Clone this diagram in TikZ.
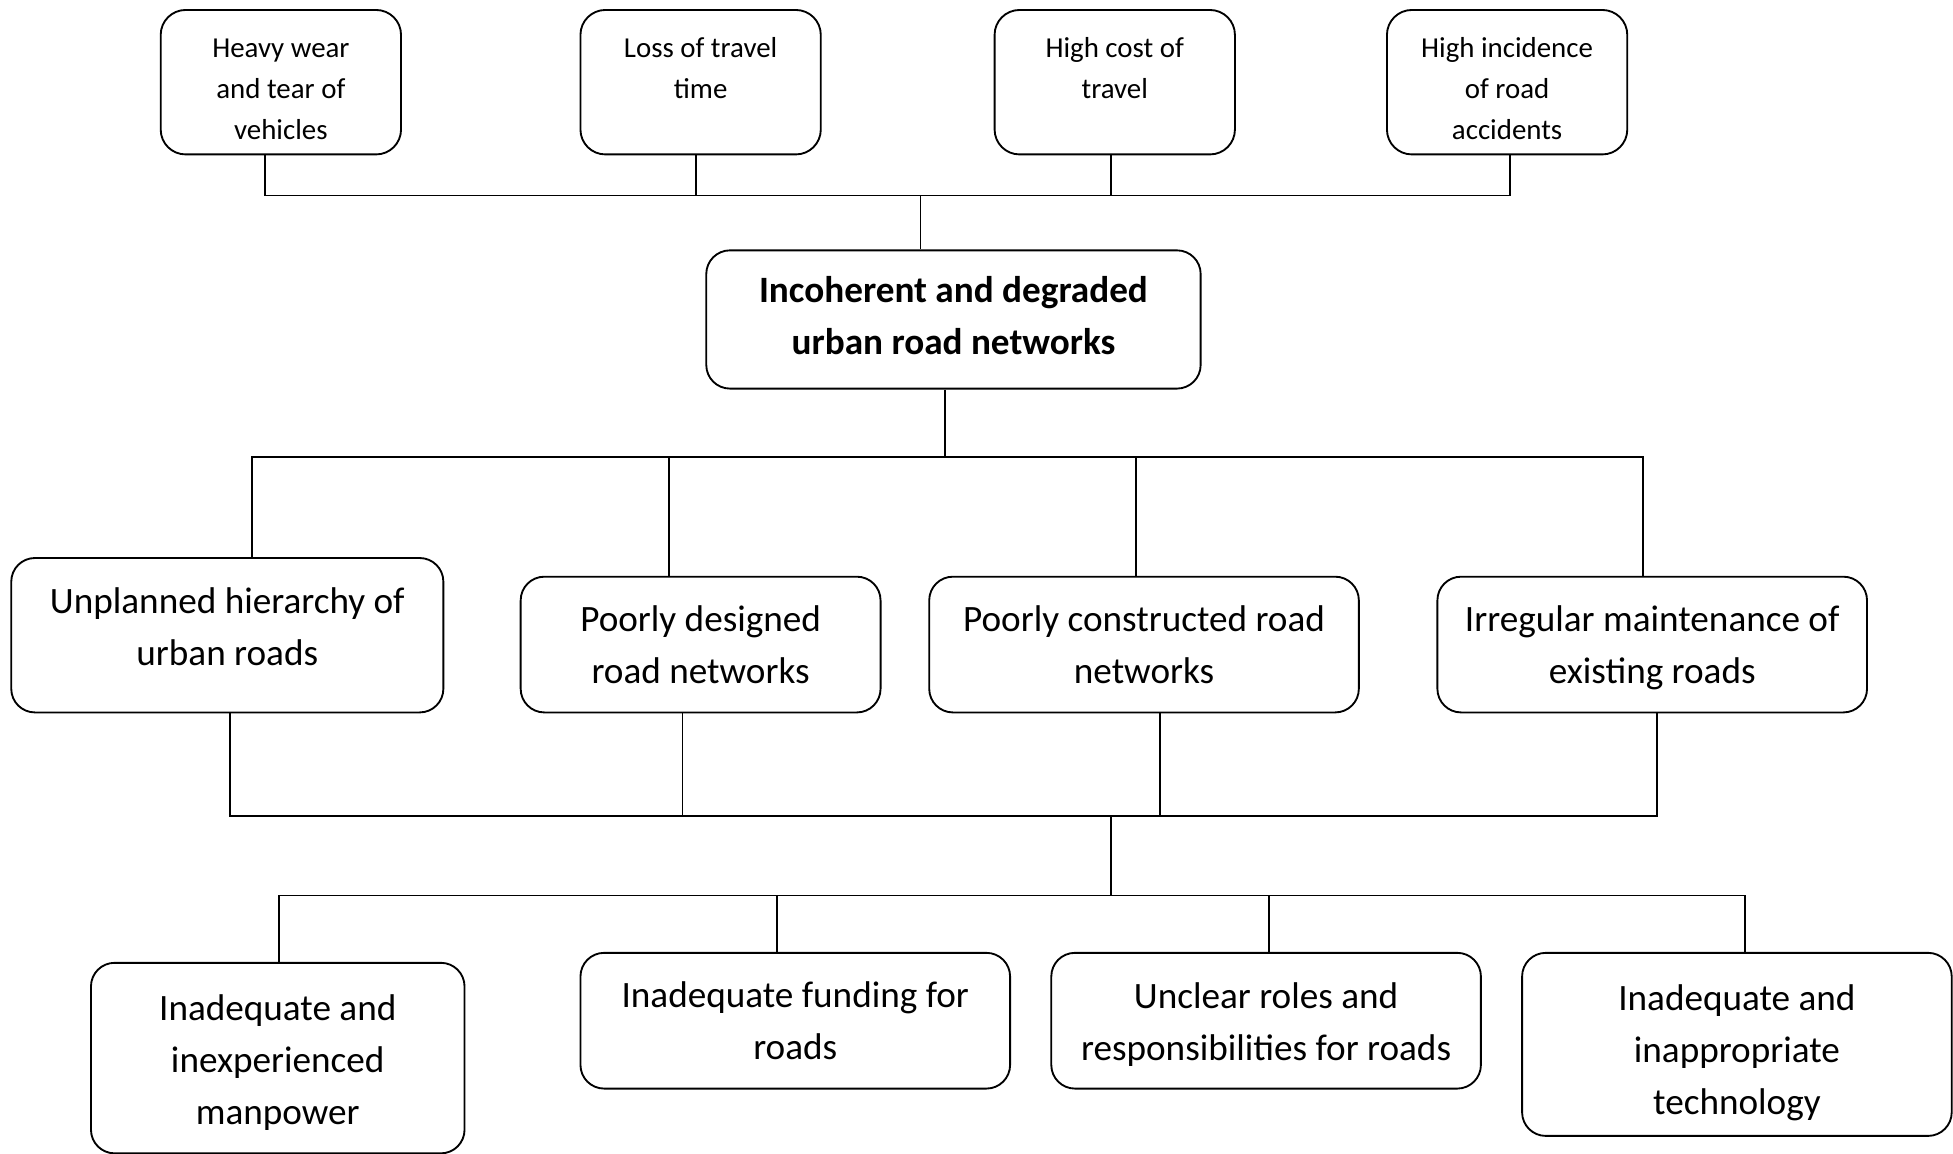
\documentclass[tikz,border=0pt]{standalone}
\usepackage{fontspec}
\setmainfont{Carlito}

\begin{document}
\begin{tikzpicture}[
  x=0.02cm, y=-0.02cm, line width=0.85pt,
  my box/.style={draw, rounded corners=0.38cm, inner sep=0pt, align=center},
  effect box/.style={my box, rounded corners=0.4cm, minimum width=3.86cm,
    minimum height=2.32cm, font=\fontsize{13.2}{18.7}\selectfont},
  cause box/.style={my box, minimum width=6.9cm, minimum height=2.18cm,
    font=\fontsize{17}{23.8}\selectfont},
  ]
  \useasboundingbox (0,0) rectangle (1568,926.5);
  \node[effect box] (wear) at (225.5,66) {\rule{0pt}{15pt}Heavy wear\\and tear of\\vehicles};
  \node[effect box] (time) at (562.5,66) {\rule{0pt}{15pt}Loss of travel\\time\\\mbox{}};
  \node[effect box] (cost) at (895,66) {\rule{0pt}{15pt}High cost of\\travel\\\mbox{}};
  \node[effect box] (accid) at (1210,66) {\rule{0pt}{15pt}High incidence\\of road\\accidents};
  \node[cause box, minimum width=7.94cm, minimum height=2.22cm, font=\fontsize{17}{23.8}\selectfont\bfseries]
    (core) at (765.5,256.5) {Incoherent and degraded\\urban road networks\rule[-3.5pt]{0pt}{3.5pt}};
  \node[cause box, minimum width=6.94cm, minimum height=2.48cm] (hier) at (182.5,510) {Unplanned hierarchy of\\urban roads\rule[-8pt]{0pt}{8pt}};
  \node[cause box, minimum width=5.78cm] (design) at (562.5,517.5) {Poorly designed\\road networks};
  \node[cause box] (constr) at (918.5,517.5) {Poorly constructed road\\networks};
  \node[cause box] (maint) at (1326.5,517.5) {\rule{0pt}{15pt}Irregular maintenance of\\existing roads};
  \node[cause box, minimum width=6cm, minimum height=3.06cm] (manp) at (223,849.5) {\rule{0pt}{16pt}Inadequate and\\inexperienced\\manpower};
  \node[cause box] (fund) at (638.5,819.5) {Inadequate funding for\\roads};
  \node[cause box] (roles) at (1016.5,819.5) {\rule{0pt}{15pt}Unclear roles and\\responsibilities for roads};
  \node[cause box, minimum height=2.94cm] (tech) at (1394.5,838.5) {\rule{0pt}{19.5pt}Inadequate and\\inappropriate\\technology};

  \coordinate (t0) at (739,157);
  \coordinate (t1) at (213,157);
  \coordinate (t2) at (559,157);
  \coordinate (t3) at (892,157);
  \coordinate (t4) at (1212,157);
  \draw (t1 |- wear.south) -- (t1) -- (t4) -- (t4 |- accid.south);
  \draw (t2 |- time.south) -- (t2);
  \draw (t3 |- cost.south) -- (t3);
  \draw (t0) -- (t0 |- core.north);

  \coordinate (c0) at (759,367);
  \coordinate (c1) at (202,367);
  \coordinate (c2) at (537,367);
  \coordinate (c3) at (912,367);
  \coordinate (c4) at (1319,367);
  \draw (c0 |- core.south) -- (c0);
  \draw (c1 |- hier.north) -- (c1) -- (c4) -- (c4 |- maint.north);
  \draw (c2) -- (c2 |- design.north);
  \draw (c3) -- (c3 |- constr.north);

  \coordinate (d0) at (892,655);
  \coordinate (d1) at (185,655);
  \coordinate (d2) at (548,655);
  \coordinate (d3) at (931,655);
  \coordinate (d4) at (1330,655);
  \draw (d1 |- hier.south) -- (d1) -- (d4) -- (d4 |- maint.south);
  \draw (d2 |- design.south) -- (d2);
  \draw (d3 |- constr.south) -- (d3);

  \coordinate (r0) at (892,719);
  \coordinate (r1) at (224,719);
  \coordinate (r2) at (624,719);
  \coordinate (r3) at (1019,719);
  \coordinate (r4) at (1401,719);
  \draw (d0) -- (r0);
  \draw (r1 |- manp.north) -- (r1) -- (r4) -- (r4 |- tech.north);
  \draw (r2) -- (r2 |- fund.north);
  \draw (r3) -- (r3 |- roles.north);
\end{tikzpicture}
\end{document}
